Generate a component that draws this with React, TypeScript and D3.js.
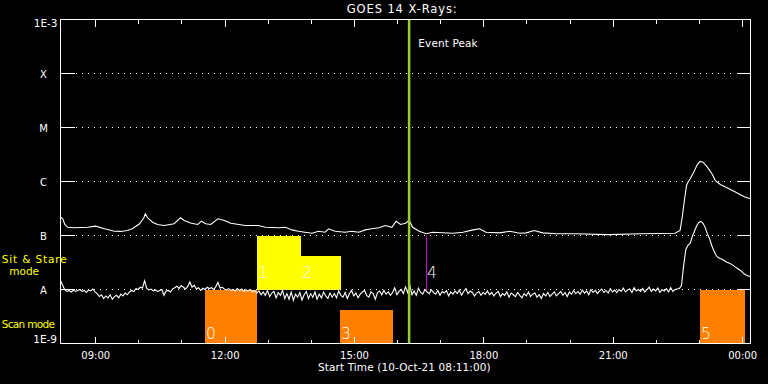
import React from "react";
import * as d3 from "d3";

const W = 768;
const H = 384;

// time domain of the plot
const startTime = new Date(Date.UTC(2021, 9, 10, 8, 11));
const endTime = new Date(Date.UTC(2021, 9, 11, 0, 11));

// y axis
const yTickValues = [1e-9, 1e-8, 1e-7, 1e-6, 1e-5, 1e-4, 1e-3];
const yTickLabels = ["1E-9", "A", "B", "C", "M", "X", "1E-3"];
const gridValues = [1e-8, 1e-7, 1e-6, 1e-5, 1e-4];

// long channel (1-8 Å), minutes since start, flux in units of 1e-7 W/m²
const longUnit = 1e-7;
const longMinutes = [
  0, 3, 6, 10, 19, 38, 49, 61, 75, 84, 93, 100, 110, 116, 118, 121, 128, 135, 144, 158,
  167, 172, 182, 191, 196, 202, 209, 219, 228, 237, 257, 275, 285, 303, 313, 322, 331, 340,
  350, 359, 368, 373, 382, 396, 405, 415, 424, 433, 443, 452, 461, 467, 473, 480, 485, 490,
  499, 509, 518, 546, 560, 574, 583, 592, 611, 625, 639, 648, 659, 671, 690, 716, 762, 809,
  855, 862, 865, 868, 871, 873, 876, 881, 886, 890, 894, 900, 907, 911, 918, 928, 937, 946,
  953, 960,
];
const longFlux = [
  2.18, 2.06, 1.6, 1.42, 1.39, 1.42, 1.49, 1.33, 1.2, 1.19, 1.24, 1.33, 1.65, 2.13, 2.52, 2.13,
  1.76, 1.6, 1.53, 1.65, 2.13, 1.9, 1.69, 1.6, 1.84, 1.65, 1.6, 2.04, 1.9, 1.69, 1.53, 1.53,
  1.42, 1.39, 1.42, 1.27, 1.2, 1.15, 1.1, 1.2, 1.15, 1.33, 1.2, 1.15, 1.2, 1.15, 1.27, 1.33,
  1.39, 1.53, 1.42, 1.84, 1.6, 1.69, 1.9, 1.42, 1.2, 1.08, 1.15, 1.1, 1.15, 1.27, 1.33, 1.15,
  1.12, 1.2, 1.1, 1.12, 1.24, 1.12, 1.08, 1.08, 1.04, 1.08, 1.1, 1.24, 2.18, 4.45, 8.43, 9.7,
  11.2, 14.9, 20.6, 23.5, 22.8, 18.4, 13.5, 10.4, 8.8, 7.6, 6.6, 5.7, 5.1, 4.8,
];

// short channel (0.5-4 Å), 3-minute cadence, flux in units of 1e-8 W/m²
const shortUnit = 1e-8;
const shortStepMinutes = 3;
const shortFlux = [
  1.47, 1.2, 0.98, 0.92, 0.96, 0.9, 0.98, 0.92, 0.96, 1.0, 0.92, 0.96, 0.88, 0.98, 0.94, 1.02, 0.9,
  0.84, 0.74, 0.8, 0.68, 0.76, 0.7, 0.8, 0.66, 0.74, 0.78, 0.7, 0.82, 0.76, 0.86, 0.8,
  0.9, 0.96, 0.92, 1.04, 1.0, 1.1, 1.06, 1.45,
  1.05, 0.98, 1.02, 0.94, 0.98, 0.92, 0.96, 1.0, 0.78, 0.94,
  0.96, 0.9, 1.02, 1.08, 1.15, 1.05, 1.18, 1.1, 1.02, 1.14,
  1.38, 1.1, 1.2, 1.02, 1.08, 0.96, 1.06, 1.0, 1.1, 1.04,
  1.08, 1.0, 1.12, 1.35, 1.06, 1.1, 1.02, 0.98, 1.04, 0.96,
  1.0, 0.94, 1.04, 0.96, 1.02, 0.92, 0.98, 0.94, 1.0, 0.9,
  0.96, 0.86, 0.94, 0.8, 0.9, 0.78, 0.96, 0.74, 0.86, 0.92,
  0.7, 0.88, 0.78, 0.96, 0.68, 0.84, 0.66, 0.9, 0.63, 0.82,
  0.72, 0.88, 0.64, 0.8, 0.92, 0.68, 0.84, 0.72, 0.9, 0.66,
  0.82, 0.7, 0.9, 0.76, 0.68, 0.86, 0.72, 0.84, 0.7, 0.94,
  0.78, 0.72, 0.88, 0.68, 0.84, 0.96, 0.76, 0.86, 0.7, 0.82,
  0.9, 0.96, 0.78, 0.72, 0.9, 0.84, 0.66, 0.88, 0.94, 0.8,
  0.96, 0.82, 0.9, 0.78, 0.88, 1.08, 0.8, 0.92, 1.0, 0.84,
  1.12, 0.88, 1.2, 0.8, 0.94, 0.78, 1.06, 0.88, 0.82, 1.0,
  0.9, 0.84, 0.98, 0.88, 0.82, 0.96, 0.78, 0.92, 0.86, 0.96,
  0.76, 0.9, 0.82, 0.94, 0.84, 0.98, 0.78, 0.92, 1.04, 0.84,
  0.94, 0.88, 0.76, 0.86, 0.92, 0.78, 0.88, 0.82, 0.94, 0.8,
  0.88, 0.76, 0.86, 0.92, 0.74, 0.84, 0.78, 0.9, 0.72, 0.86,
  0.8, 0.74, 0.88, 0.78, 0.7, 0.84, 0.76, 0.9, 0.74, 0.82,
  0.86, 0.72, 0.8, 0.68, 0.84, 0.76, 0.88, 0.74, 0.82, 0.9,
  0.76, 0.84, 0.92, 0.78, 0.88, 0.74, 0.9, 0.82, 0.96, 0.84,
  0.92, 0.82, 0.98, 0.86, 0.94, 0.8, 1.0, 0.88, 0.96, 0.84,
  0.94, 1.02, 0.88, 0.96, 0.86, 1.04, 0.9, 0.98, 0.88, 1.0,
  0.92, 1.06, 0.9, 0.98, 1.02, 0.88, 1.08, 0.94, 1.0, 0.92,
  1.04, 0.9, 1.0, 1.1, 0.92, 1.02, 0.94, 1.06, 0.88, 1.0,
  0.94, 1.04, 0.9, 1.08, 0.92, 1.0, 1.02,
  1.04, 1.2, 2.8, 5.5, 6.6, 7.1, 9.5, 12.0, 15.0, 17.5, 18.2, 16.8, 14.0, 10.8, 8.8, 6.6, 5.2,
  4.3, 3.9, 3.75, 3.6, 3.4, 3.2, 3.1, 2.95, 2.8, 2.6, 2.45, 2.3, 2.15, 1.95, 1.85, 1.78, 1.72,
];

// observing-mode events
const eventIds = ["0", "1", "2", "3", "4", "5"];
const eventStart = ["11:32", "12:45", "13:45", "14:40", "16:40", "23:01"];
const eventEnd = ["12:45", "13:45", "14:41", "15:54", "16:40", "00:03"];
const eventMode = ["scan", "sit", "sit", "scan", "marker", "scan"];
const eventTop = [1e-8, 1e-7, 4.2e-8, 4.2e-9, 1e-7, 1e-8];
const eventBottom = [1e-9, 1e-8, 1e-8, 1e-9, 1e-8, 1e-9];
const eventPeakTime = "16:16";

const FONT = "'DejaVu Sans', sans-serif";

function parseHM(s: string): Date {
  const [h, m] = s.split(":").map(Number);
  const day = h < 8 ? 11 : 10;
  return new Date(Date.UTC(2021, 9, day, h, m));
}

function addMinutes(m: number): Date {
  return new Date(startTime.getTime() + m * 60000);
}

export default function App() {
  const left = 60.5;
  const right = 750.5;
  const top = 19.5;
  const bottom = 343.5;

  const x = d3.scaleUtc().domain([startTime, endTime]).range([left, right]);
  const y = d3.scaleLog().domain([1e-9, 1e-3]).range([bottom, top]);

  const line = d3
    .line<[Date, number]>()
    .x((d) => x(d[0]))
    .y((d) => y(d[1]));

  const longData: [Date, number][] = longMinutes.map((m, i) => [addMinutes(m), longFlux[i] * longUnit]);
  const shortData: [Date, number][] = shortFlux.map((v, i) => [addMinutes(i * shortStepMinutes), v * shortUnit]);

  const majorTicks = x.ticks(d3.utcHour.every(3)!);
  const minorTicks = x.ticks(d3.utcHour.every(1)!).filter((t) => t.getUTCHours() % 3 !== 0);
  const fmt = d3.utcFormat("%H:%M");

  const peakX = x(parseHM(eventPeakTime));
  const ry = (v: number) => Math.round(y(v) - 0.5) + 0.5;
  const rx = (t: Date) => Math.round(x(t) - 0.5) + 0.5;

  return (
    <svg width={W} height={H} style={{ position: "absolute", left: 0, top: 0, background: "#000" }}>
      <rect x={0} y={0} width={W} height={H} fill="#000" />

      {/* mode bars */}
      {eventIds.map((id, i) => {
        const x0 = Math.round(x(parseHM(eventStart[i])));
        const x1 = Math.round(x(parseHM(eventEnd[i])));
        const yt = Math.round(y(eventTop[i]));
        const yb = Math.round(y(eventBottom[i]));
        const labelY = eventMode[i] === "scan" ? 339 : 277.5;
        return (
          <g key={id}>
            {eventMode[i] === "marker" ? (
              <line x1={x0 + 0.5} x2={x0 + 0.5} y1={yt} y2={yb} stroke="#d000d0" strokeWidth={1} />
            ) : (
              <rect
                x={x0}
                y={yt}
                width={x1 - x0}
                height={yb - yt}
                fill={eventMode[i] === "scan" ? "#ff8000" : "#ffff00"}
                shapeRendering="crispEdges"
              />
            )}
            <text x={x0 + 1} y={labelY} fill="#fff" fontFamily={FONT} fontSize={15.5} fontWeight={300}>
              {id}
            </text>
          </g>
        );
      })}

      {/* dotted grid */}
      {gridValues.map((v) => (
        <line
          key={v}
          x1={76}
          x2={736}
          y1={ry(v)}
          y2={ry(v)}
          stroke="#fff"
          strokeWidth={1}
          strokeDasharray="1,5"
          shapeRendering="crispEdges"
        />
      ))}

      {/* y ticks on both sides */}
      {gridValues.map((v) => (
        <g key={"t" + v} shapeRendering="crispEdges">
          <line x1={left} x2={left + 14} y1={ry(v)} y2={ry(v)} stroke="#fff" />
          <line x1={right - 14} x2={right} y1={ry(v)} y2={ry(v)} stroke="#fff" />
        </g>
      ))}

      {/* x ticks */}
      {majorTicks.map((t) => (
        <g key={"M" + t.getTime()}>
          <line x1={rx(t)} x2={rx(t)} y1={top} y2={top + 7} stroke="#fff" shapeRendering="crispEdges" />
          <line x1={rx(t)} x2={rx(t)} y1={bottom} y2={bottom - 7} stroke="#fff" shapeRendering="crispEdges" />
          <text x={x(t)} y={359} fill="#fff" fontFamily={FONT} fontSize={10} textAnchor="middle">
            {fmt(t)}
          </text>
        </g>
      ))}
      {minorTicks.map((t) => (
        <g key={"m" + t.getTime()} shapeRendering="crispEdges">
          <line x1={rx(t)} x2={rx(t)} y1={top} y2={top + 4} stroke="#fff" />
          <line x1={rx(t)} x2={rx(t)} y1={bottom} y2={bottom - 4} stroke="#fff" />
        </g>
      ))}

      {/* data curves */}
      <path d={line(longData) || ""} fill="none" stroke="#fff" strokeWidth={1.1} />
      <path d={line(shortData) || ""} fill="none" stroke="#fff" strokeWidth={1.1} />

      {/* event peak */}
      <line x1={peakX} x2={peakX} y1={top} y2={bottom} stroke="#9acd32" strokeWidth={2.5} />
      <text x={418.3} y={46.5} fill="#fff" fontFamily={FONT} fontSize={10.5} textLength={59.4} lengthAdjust="spacing">
        Event Peak
      </text>

      {/* frame */}
      <rect
        x={left}
        y={top}
        width={right - left}
        height={bottom - top}
        fill="none"
        stroke="#fff"
        strokeWidth={1}
        shapeRendering="crispEdges"
      />

      {/* y labels */}
      {yTickValues.map((v, i) => {
        const lab = yTickLabels[i];
        if (lab === "1E-3")
          return (
            <text key={lab} x={57.5} y={27} fill="#fff" fontFamily={FONT} fontSize={10.5} textAnchor="end">
              {lab}
            </text>
          );
        if (lab === "1E-9")
          return (
            <text key={lab} x={57} y={343} fill="#fff" fontFamily={FONT} fontSize={10.5} textAnchor="end">
              {lab}
            </text>
          );
        return (
          <text key={lab} x={43.5} y={y(v) + 4} fill="#fff" fontFamily={FONT} fontSize={10} textAnchor="middle">
            {lab}
          </text>
        );
      })}

      {/* mode labels */}
      <text x={1.7} y={263} fill="#ffff00" fontFamily={FONT} fontSize={10.5} textLength={65} lengthAdjust="spacing">
        Sit &amp; Stare
      </text>
      <text x={24.2} y={275} fill="#ffff00" fontFamily={FONT} fontSize={10.5} textAnchor="middle">
        mode
      </text>
      <text x={1.7} y={327.5} fill="#ffff00" fontFamily={FONT} fontSize={10.5} textLength={53.3} lengthAdjust="spacing">
        Scan mode
      </text>

      {/* titles */}
      <text x={346.7} y={13.3} fill="#fff" fontFamily={FONT} fontSize={11.5} textLength={110} lengthAdjust="spacing">
        GOES 14 X-Rays:
      </text>
      <text x={318} y={371} fill="#fff" fontFamily={FONT} fontSize={10.5} textLength={172.7} lengthAdjust="spacing">
        Start Time (10-Oct-21 08:11:00)
      </text>
    </svg>
  );
}
